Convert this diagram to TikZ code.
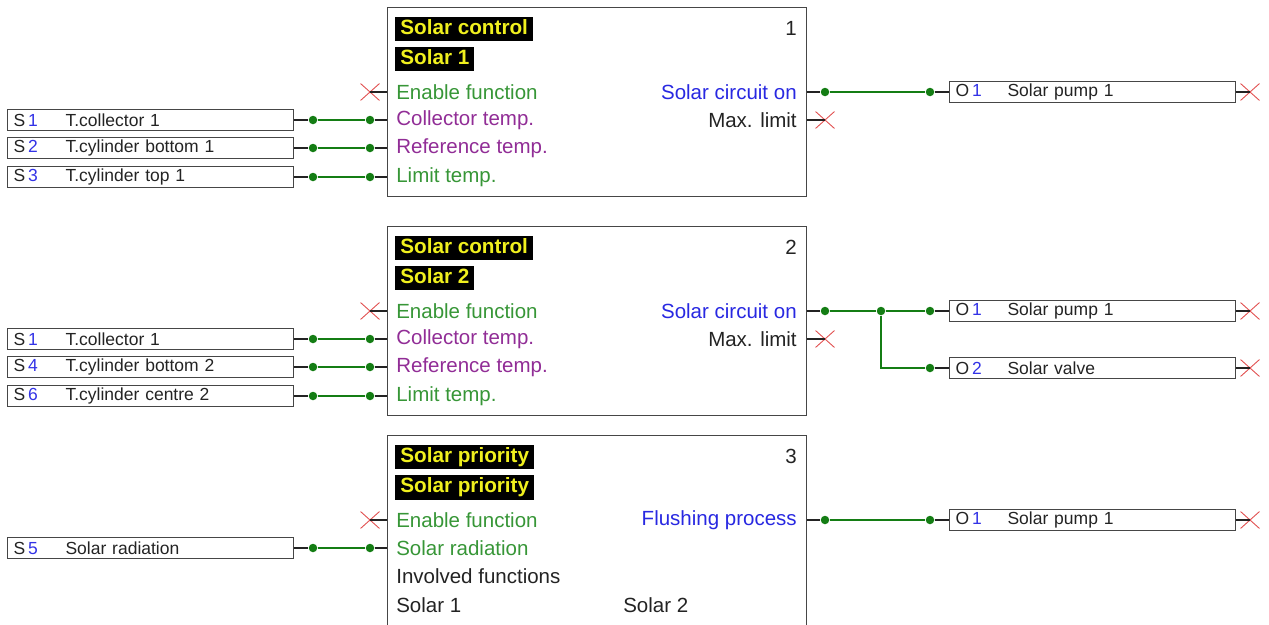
\documentclass[tikz,border=0pt]{standalone}
\usepackage{fontspec}
\setmainfont{Liberation Sans}
\usetikzlibrary{shapes.misc}
\definecolor{wiregreen}{RGB}{20,125,20}
\definecolor{labgreen}{RGB}{55,150,55}
\definecolor{labpurple}{RGB}{145,45,150}
\definecolor{labblue}{RGB}{40,40,225}
\definecolor{numblue}{RGB}{50,50,230}
\definecolor{xred}{RGB}{225,80,80}
\definecolor{titleyellow}{RGB}{240,240,30}
\definecolor{textgray}{RGB}{35,35,35}
\definecolor{boxgray}{RGB}{70,70,70}
\newcommand\io[2]{\makebox[52pt][l]{#1\,\textcolor{numblue}{#2}}}

\begin{document}
\begin{tikzpicture}[x=1pt,y=-1pt,semithick,
  block/.style={draw=boxgray,line width=1.3pt,anchor=north west,minimum width=419,minimum height=189,inner sep=0},
  title/.style={fill=black,text=titleyellow,font=\fontsize{20.7}{24}\selectfont\bfseries,anchor=west,inner xsep=5,inner ysep=2.5,text height=15,text depth=4.5},
  lab/.style={font=\fontsize{20.5}{24}\selectfont,anchor=west,inner sep=0},
  rlab/.style={lab,anchor=east},
  iobox/.style={draw=boxgray,line width=1.1pt,anchor=west,text width=274,inner xsep=6,inner ysep=0,minimum height=21,align=left,font=\fontsize{17.5}{20}\selectfont,text=textgray},
  dot/.style={circle,fill=wiregreen,inner sep=0,minimum size=8.5},
  xmark/.style={cross out,draw=xred,line width=0.9pt,minimum width=18,minimum height=16,inner sep=0},
  wire/.style={draw=textgray,line width=1.1pt},
  sig/.style={draw=wiregreen,line width=1.2pt}]
                \useasboundingbox(0, 0) rectangle (1269, 624);
                \clip(0, 0) rectangle (1269, 624);
                % block 1
                \node[block](f1)at(387, 7){};
                \node[title](t1a)at(395, 29){Solar control};
                \node[title](t1b)at(395, 59){Solar 1};
                \node[rlab,text=textgray](n1)at(797, 28){1};
                \node[lab,text=labgreen](e1)at(396, 92){Enable function};
                \node[lab,text=labpurple](c1)at(396, 120){Collector temp.};
                \node[lab,text=labpurple](r1)at(396, 148){Reference temp.};
                \node[lab,text=labgreen](l1)at(396, 177){Limit temp.};
                \node[rlab,text=labblue](o1)at(797, 92){Solar circuit on};
                \node[rlab,text=textgray](m1)at(797, 120){Max. limit};
                \node[iobox](s11)at(7, 120){\io{S}{1}T.collector 1};
                \node[iobox](s12)at(7, 148){\io{S}{2}T.cylinder bottom 1};
                \node[iobox](s13)at(7, 177){\io{S}{3}T.cylinder top 1};
                \node[dot](a11)at(313, 120){};
                \node[dot](b11)at(370, 120){};
                \node[dot](a12)at(313, 148){};
                \node[dot](b12)at(370, 148){};
                \node[dot](a13)at(313, 177){};
                \node[dot](b13)at(370, 177){};
                \node[xmark](x1e)at(370, 92){};
                \node[xmark](x1m)at(825, 120){};
                \node[dot](a1o)at(825, 92){};
                \node[dot](b1o)at(930, 92){};
                \node[iobox](q11)at(949, 92){\io{O}{1}Solar pump 1};
                \node[xmark](x11)at(1250, 92){};
                % block 2
                \node[block](f2)at(387, 226){};
                \node[title](t2a)at(395, 248){Solar control};
                \node[title](t2b)at(395, 278){Solar 2};
                \node[rlab,text=textgray](n2)at(797, 247){2};
                \node[lab,text=labgreen](e2)at(396, 311){Enable function};
                \node[lab,text=labpurple](c2)at(396, 339){Collector temp.};
                \node[lab,text=labpurple](r2)at(396, 367){Reference temp.};
                \node[lab,text=labgreen](l2)at(396, 396){Limit temp.};
                \node[rlab,text=labblue](o2)at(797, 311){Solar circuit on};
                \node[rlab,text=textgray](m2)at(797, 339){Max. limit};
                \node[iobox](s21)at(7, 339){\io{S}{1}T.collector 1};
                \node[iobox](s22)at(7, 367){\io{S}{4}T.cylinder bottom 2};
                \node[iobox](s23)at(7, 396){\io{S}{6}T.cylinder centre 2};
                \node[dot](a21)at(313, 339){};
                \node[dot](b21)at(370, 339){};
                \node[dot](a22)at(313, 367){};
                \node[dot](b22)at(370, 367){};
                \node[dot](a23)at(313, 396){};
                \node[dot](b23)at(370, 396){};
                \node[xmark](x2e)at(370, 311){};
                \node[xmark](x2m)at(825, 339){};
                \node[dot](a2o)at(825, 311){};
                \node[dot](j2o)at(881, 311){};
                \node[dot](b2o)at(930, 311){};
                \node[dot](c2o)at(930, 368){};
                \node[iobox](q21)at(949, 311){\io{O}{1}Solar pump 1};
                \node[iobox](q22)at(949, 368){\io{O}{2}Solar valve};
                \node[xmark](x21)at(1250, 311){};
                \node[xmark](x22)at(1250, 368){};
                % block 3
                \node[block,minimum height=210](f3)at(387, 435){};
                \node[title](t3a)at(395, 457){Solar priority};
                \node[title](t3b)at(395, 487.5){Solar priority};
                \node[rlab,text=textgray](n3)at(797, 456){3};
                \node[lab,text=labgreen](e3)at(396, 520){Enable function};
                \node[lab,text=labgreen](c3)at(396, 548){Solar radiation};
                \node[lab,text=textgray](i3)at(396, 576){Involved functions};
                \node[lab,text=textgray](u3)at(396, 605){Solar 1};
                \node[lab,text=textgray](v3)at(623, 605){Solar 2};
                \node[rlab,text=labblue](o3)at(797, 520){Flushing process};
                \node[iobox](s31)at(7, 548){\io{S}{5}Solar radiation};
                \node[dot](a31)at(313, 548){};
                \node[dot](b31)at(370, 548){};
                \node[xmark](x3e)at(370, 520){};
                \node[dot](a3o)at(825, 520){};
                \node[dot](b3o)at(930, 520){};
                \node[iobox](q31)at(949, 520){\io{O}{1}Solar pump 1};
                \node[xmark](x31)at(1250, 520){};
                \path[](s11) edge[wire] (a11)
                (a11) edge[sig] (b11)
                (b11) edge[wire] (b11 -| f1.west)
                (s12) edge[wire] (a12)
                (a12) edge[sig] (b12)
                (b12) edge[wire] (b12 -| f1.west)
                (s13) edge[wire] (a13)
                (a13) edge[sig] (b13)
                (b13) edge[wire] (b13 -| f1.west)
                (x1e.center) edge[wire] (x1e -| f1.west)
                (f1.east |- a1o) edge[wire] (a1o)
                (a1o) edge[sig] (b1o)
                (b1o) edge[wire] (q11)
                (q11) edge[wire] (x11.center)
                (f1.east |- x1m) edge[wire] (x1m.center)
                (s21) edge[wire] (a21)
                (a21) edge[sig] (b21)
                (b21) edge[wire] (b21 -| f2.west)
                (s22) edge[wire] (a22)
                (a22) edge[sig] (b22)
                (b22) edge[wire] (b22 -| f2.west)
                (s23) edge[wire] (a23)
                (a23) edge[sig] (b23)
                (b23) edge[wire] (b23 -| f2.west)
                (x2e.center) edge[wire] (x2e -| f2.west)
                (f2.east |- a2o) edge[wire] (a2o)
                (a2o) edge[sig] (j2o)
                (j2o) edge[sig] (b2o)
                (j2o) edge[sig,to path={|- (\tikztotarget)}] (c2o)
                (b2o) edge[wire] (q21)
                (c2o) edge[wire] (q22)
                (q21) edge[wire] (x21.center)
                (q22) edge[wire] (x22.center)
                (f2.east |- x2m) edge[wire] (x2m.center)
                (s31) edge[wire] (a31)
                (a31) edge[sig] (b31)
                (b31) edge[wire] (b31 -| f3.west)
                (x3e.center) edge[wire] (x3e -| f3.west)
                (f3.east |- a3o) edge[wire] (a3o)
                (a3o) edge[sig] (b3o)
                (b3o) edge[wire] (q31)
                (q31) edge[wire] (x31.center);
            \end{tikzpicture}
\end{document}
